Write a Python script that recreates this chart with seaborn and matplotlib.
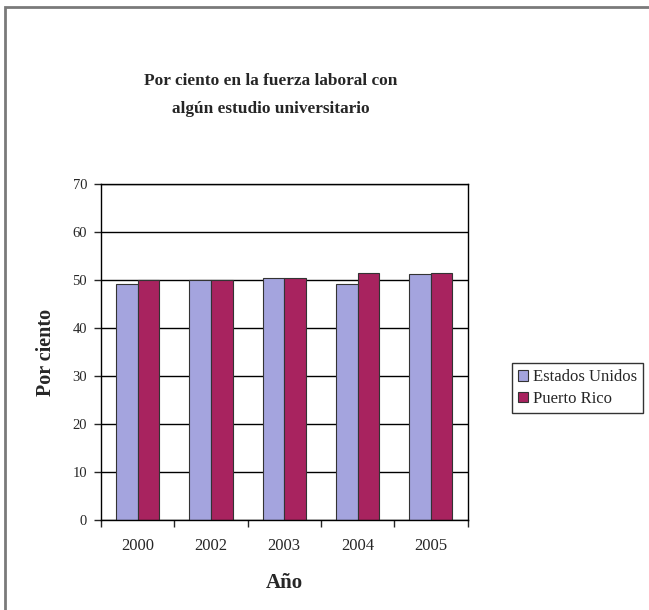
import matplotlib
matplotlib.use("Agg")
import matplotlib.pyplot as plt
import seaborn as sns
import pandas as pd
from matplotlib.patches import Rectangle, Patch

years = ["2000", "2002", "2003", "2004", "2005"]
estados_unidos = [49.2, 49.9, 50.5, 49.1, 51.2]
puerto_rico = [49.9, 49.9, 50.4, 51.4, 51.5]
series_names = ["Estados Unidos", "Puerto Rico"]
colors = ["#A4A4DE", "#A8235F"]

df = pd.DataFrame({
    "Año": years * 2,
    "valor": estados_unidos + puerto_rico,
    "serie": [series_names[0]] * len(years) + [series_names[1]] * len(years),
})

sns.set_style("white")
plt.rcParams["font.family"] = ["Liberation Serif", "DejaVu Serif"]

fig = plt.figure(figsize=(6.49, 6.10), dpi=100)
ax = fig.add_axes([101 / 649, 1 - 520 / 610, (467.5 - 101) / 649, (520 - 184) / 610])

sns.barplot(data=df, x="Año", y="valor", hue="serie", palette=colors,
            width=0.59, edgecolor="#333333", linewidth=0.8, ax=ax, legend=False,
            saturation=1)

ax.set_ylim(0, 70)
ax.set_xlim(-0.5, len(years) - 0.5)
ax.set_yticks(range(0, 71, 10))
ax.yaxis.grid(True, color="black", linewidth=1.0)
ax.set_axisbelow(True)
for s in ax.spines.values():
    s.set_visible(True)
    s.set_color("black")
    s.set_linewidth(1.0)

ax.tick_params(axis="y", which="major", direction="out", length=5, width=1,
               labelsize=10.5, pad=5, left=True)
ax.tick_params(axis="x", which="major", length=0, labelsize=12, pad=13)
ax.set_xticks([i - 0.5 for i in range(len(years) + 1)], minor=True)
ax.tick_params(axis="x", which="minor", direction="out", length=5, width=1, bottom=True)

ax.set_xlabel("Año", fontsize=15, fontweight="bold", labelpad=14)
ax.set_ylabel("Por ciento", fontsize=14.5, fontweight="bold", labelpad=12)

fig.text(271 / 649, 1 - 95 / 610,
         "Por ciento en la fuerza laboral con\nalgún estudio universitario",
         ha="center", va="center", fontsize=12.4, fontweight="bold", linespacing=2.05)

handles = [Patch(facecolor=colors[i], edgecolor="#333333", linewidth=0.8) for i in range(2)]
leg = fig.legend(handles, series_names, loc="center left",
                 bbox_to_anchor=(512 / 649, 1 - 388 / 610), fontsize=12,
                 frameon=True, fancybox=False, edgecolor="black",
                 handlelength=0.6, handleheight=0.6, handletextpad=0.3,
                 borderpad=0.35, labelspacing=0.35, borderaxespad=0)
leg.get_frame().set_linewidth(1.0)

fig.patches.append(Rectangle((5 / 649, -0.1), 1.2, (1 - 7 / 610) + 0.1,
                             transform=fig.transFigure, fill=False,
                             edgecolor="#7a7a7a", linewidth=2.0))

fig.savefig("out.png", dpi=100)
